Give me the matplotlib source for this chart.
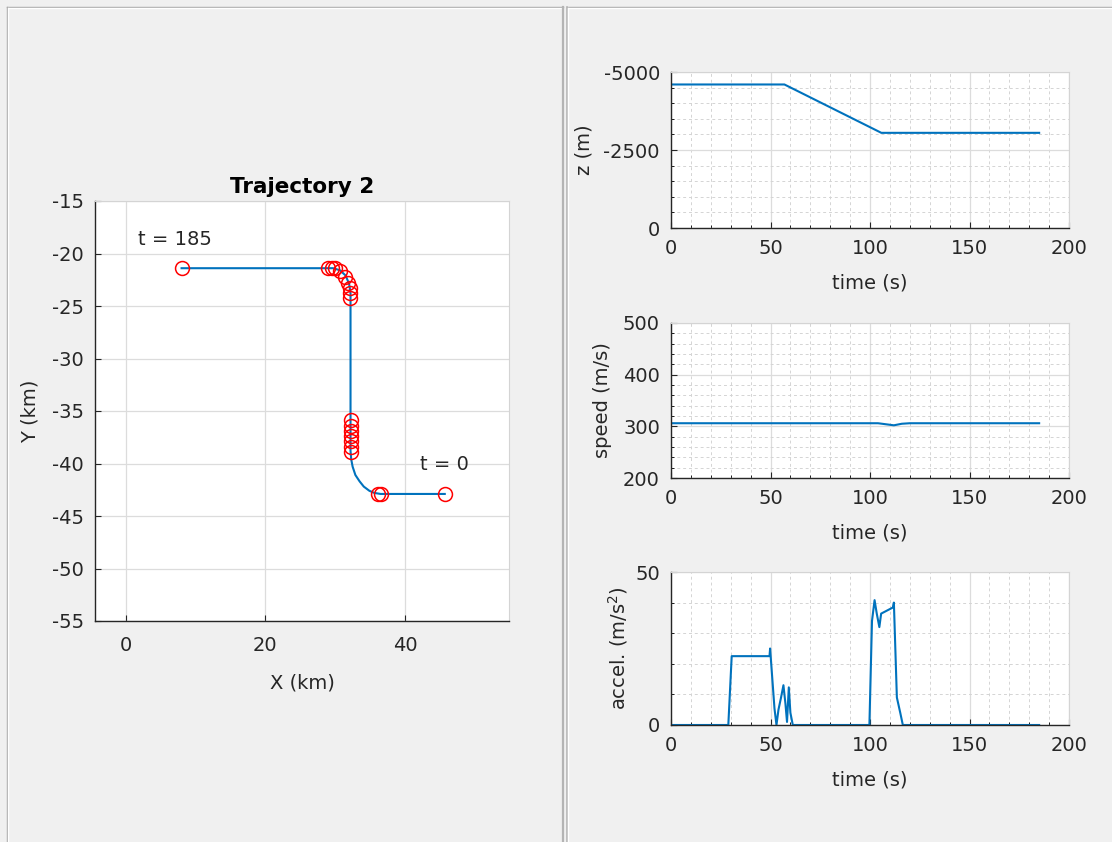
import matplotlib
matplotlib.use("Agg")
import matplotlib.pyplot as plt
from matplotlib.lines import Line2D
from matplotlib.ticker import MultipleLocator

# Trajectory path (km)
path_x = [45.7, 36.5, 35.6, 34.9, 34.1, 33.5, 32.9, 32.5, 32.3, 32.2, 32.2, 32.1, 32.0, 31.5, 30.7, 29.7, 8.0]
path_y = [-42.9, -42.9, -42.8, -42.6, -42.2, -41.7, -41.1, -40.3, -39.6, -38.8, -23.8, -23.3, -22.9, -22.1, -21.6, -21.4, -21.4]

# Waypoint markers (red circles)
wp_x = [45.7, 36.6, 36.1,
        32.2, 32.2, 32.2, 32.2, 32.2, 32.2, 32.2,
        32.1, 32.1, 32.1, 31.9, 31.4, 30.7, 30.0, 29.5, 29.0,
        8.0]
wp_y = [-42.9, -42.9, -42.9,
        -35.9, -36.4, -36.9, -37.4, -37.9, -38.4, -38.9,
        -24.2, -23.8, -23.3, -22.8, -22.2, -21.7, -21.4, -21.4, -21.4,
        -21.4]

# Altitude (z, m) vs time
t_z = [0, 57, 105.7, 185]
z = [-4600, -4600, -3050, -3050]

# Speed (m/s) vs time
t_spd = [0, 100, 104, 108, 112, 116, 120, 185]
spd = [306, 306, 306, 304, 302, 305, 306, 306]

# Acceleration (m/s^2) vs time
t_acc = [0, 28.8, 30.5, 49.5, 49.8, 52, 53, 54, 55.3, 56.5, 57.5, 58.3, 59.2, 60, 61.2,
         99.7, 101, 102.3, 103.4, 104.7, 105.6, 111.5, 112, 113.5, 115.2, 116.5, 185]
acc = [0, 0, 22.5, 22.5, 25, 5.4, 0, 5, 9, 13, 7, 1, 12.3, 4, 0,
       0, 34, 40.8, 36.4, 32, 36.4, 38.4, 40, 9, 4, 0, 0]

blue = '#0072BD'
txt = '#262626'
W, H = 1112, 842
plt.rcParams['font.family'] = 'DejaVu Sans'
plt.rcParams['font.size'] = 14
plt.rcParams['axes.unicode_minus'] = False

fig = plt.figure(figsize=(W / 100, H / 100), dpi=100, facecolor='#f0f0f0')


def px(x0, y0, x1, y1):
    # pixel box (top-left origin) -> figure fraction rect
    return [x0 / W, 1 - y1 / H, (x1 - x0) / W, (y1 - y0) / H]


def matlab_style(ax, minor=False):
    ax.set_facecolor('white')
    for s in ['left', 'bottom']:
        ax.spines[s].set_color(txt)
        ax.spines[s].set_linewidth(1.0)
    for s in ['top', 'right']:
        ax.spines[s].set_color('#d4d4d4')
        ax.spines[s].set_linewidth(0.8)
    ax.tick_params(direction='in', length=4, width=0.8, colors=txt,
                   top=False, right=False, labelcolor=txt)
    ax.tick_params(axis='x', pad=8)
    ax.tick_params(axis='y', pad=8)
    ax.grid(True, which='major', color='#dcdcdc', linewidth=0.9)
    if minor:
        ax.grid(True, which='minor', color='#d4d4d4', linewidth=0.7,
                linestyle=(0, (3, 3)))
        ax.tick_params(which='minor', direction='in', length=2, top=False, right=False)
    ax.set_axisbelow(True)


# panel borders (uipanel look)
def hline(x0, x1, y, c, lw=1.0):
    fig.add_artist(Line2D([x0 / W, x1 / W], [1 - y / H, 1 - y / H], color=c, lw=lw,
                          transform=fig.transFigure))


def vline(x, y0, y1, c, lw=1.0):
    fig.add_artist(Line2D([x / W, x / W], [1 - y0 / H, 1 - y1 / H], color=c, lw=lw,
                          transform=fig.transFigure))


hline(6.5, 563, 6.5, '#a8a8a8')
hline(7.5, 562, 7.8, '#ffffff')
vline(6.5, 6.5, 842, '#a8a8a8')
vline(7.8, 7.5, 842, '#ffffff')
vline(562.5, 6.5, 842, '#b4b4b4', 1.6)
hline(566.5, 1112, 6.5, '#a8a8a8')
hline(567.5, 1112, 7.8, '#ffffff')
vline(566.5, 6.5, 842, '#b4b4b4', 1.2)
vline(568, 7.5, 842, '#ffffff')

# Left: trajectory
ax = fig.add_axes(px(95, 201, 509, 621))
matlab_style(ax)
ax.tick_params(axis='x', pad=11)
ax.plot(path_x, path_y, color=blue, lw=1.5)
ax.plot(wp_x, wp_y, 'o', mfc='none', mec='red', ms=10, mew=1.1)
ax.text(1.7, -18.7, 't = 185', va='center', ha='left', color=txt)
ax.text(42.2, -40.1, 't = 0', va='center', ha='left', color=txt)
ax.set_xlim(-4.4, 54.9)
ax.set_ylim(-55, -15)
ax.set_xticks([0, 20, 40])
ax.set_yticks(list(range(-55, -14, 5)))
ax.set_xlabel('X (km)', color=txt, labelpad=13)
ax.set_ylabel('Y (km)', color=txt, labelpad=9)
ax.set_title('Trajectory 2', fontweight='bold', fontsize=15.5, color='black', pad=6)

# Right: z
ax1 = fig.add_axes(px(671, 72, 1069, 228))
matlab_style(ax1, minor=True)
ax1.plot(t_z, z, color=blue, lw=1.5)
ax1.set_xlim(0, 200)
ax1.set_ylim(0, -5000)
ax1.set_yticks([0, -2500, -5000])
ax1.xaxis.set_major_locator(MultipleLocator(50))
ax1.xaxis.set_minor_locator(MultipleLocator(10))
ax1.yaxis.set_minor_locator(MultipleLocator(500))
ax1.set_xlabel('time (s)', color=txt, labelpad=11)
ax1.set_ylabel('z (m)', color=txt, labelpad=7)

# Right: speed
ax2 = fig.add_axes(px(671, 323, 1069, 478))
matlab_style(ax2, minor=True)
ax2.plot(t_spd, spd, color=blue, lw=1.5)
ax2.set_xlim(0, 200)
ax2.set_ylim(200, 500)
ax2.set_yticks([200, 300, 400, 500])
ax2.xaxis.set_major_locator(MultipleLocator(50))
ax2.xaxis.set_minor_locator(MultipleLocator(10))
ax2.yaxis.set_minor_locator(MultipleLocator(20))
ax2.set_xlabel('time (s)', color=txt, labelpad=11)
ax2.set_ylabel('speed (m/s)', color=txt, labelpad=8)

# Right: acceleration
ax3 = fig.add_axes(px(671, 572, 1069, 725))
matlab_style(ax3, minor=True)
ax3.plot(t_acc, acc, color=blue, lw=1.5)
ax3.set_xlim(0, 200)
ax3.set_ylim(0, 50)
ax3.set_yticks([0, 50])
ax3.xaxis.set_major_locator(MultipleLocator(50))
ax3.xaxis.set_minor_locator(MultipleLocator(10))
ax3.yaxis.set_minor_locator(MultipleLocator(10))
ax3.set_xlabel('time (s)', color=txt, labelpad=11)
ax3.set_ylabel('accel. (m/s$^2$)', color=txt, labelpad=4)

fig.savefig('out.png', dpi=100, facecolor=fig.get_facecolor())
